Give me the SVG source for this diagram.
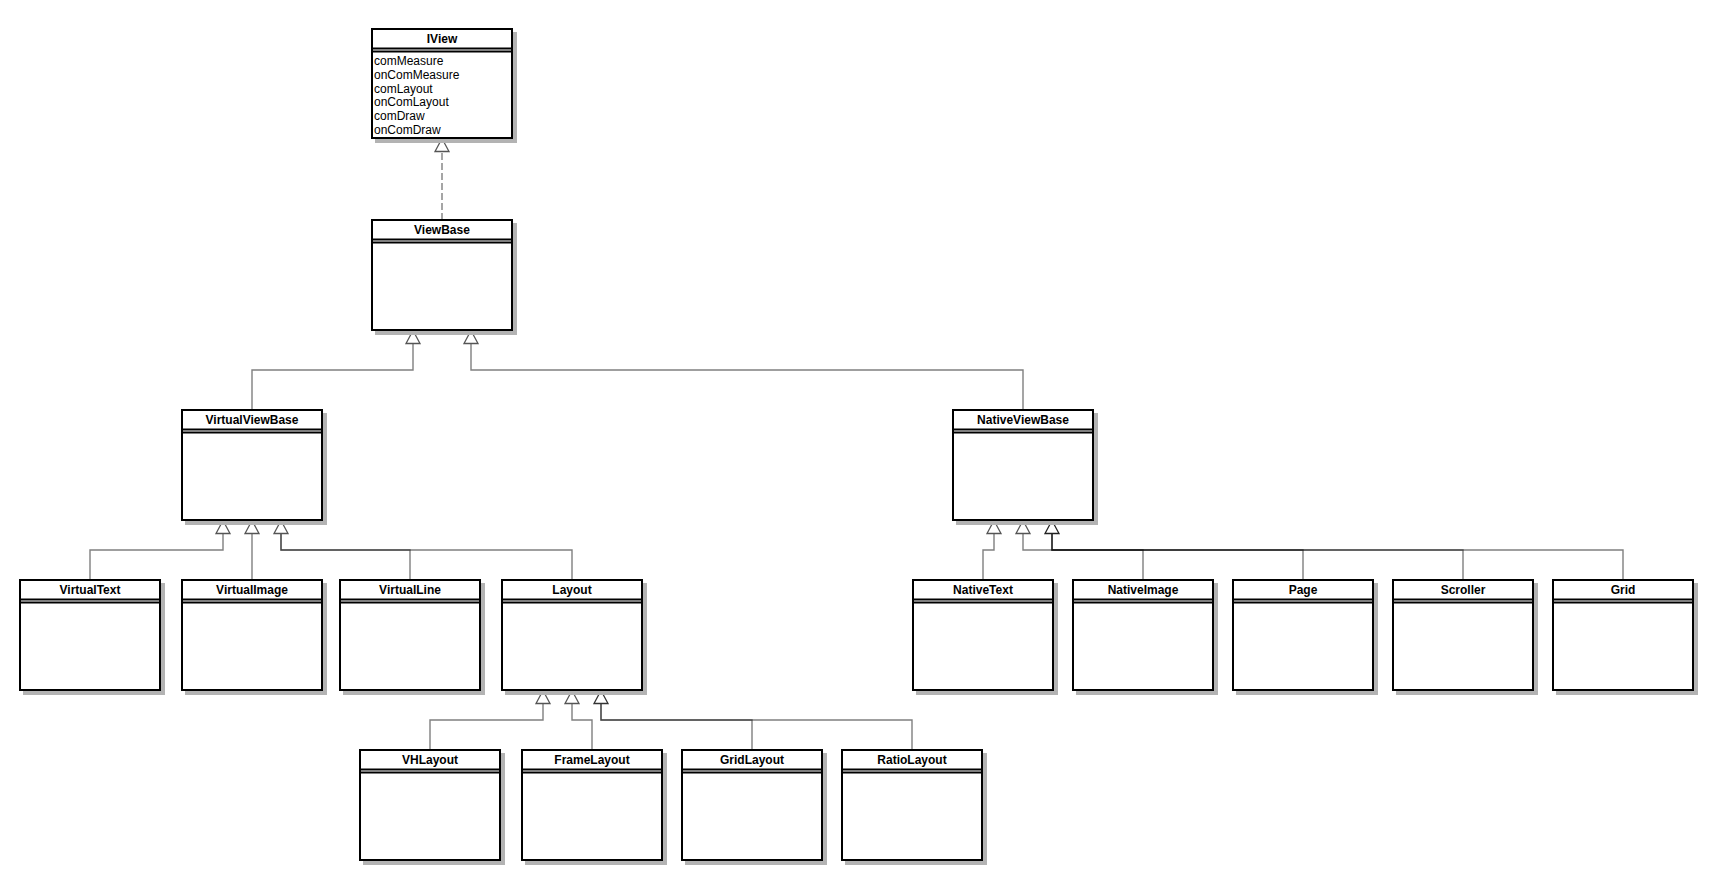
<svg xmlns="http://www.w3.org/2000/svg" width="1715" height="880" viewBox="0 0 1715 880">
<style>
.box{fill:#fff;stroke:#000;stroke-width:2}
.sep{stroke:#000;stroke-width:2;fill:none}
.t{font-family:"Liberation Sans",Arial,sans-serif;font-size:12px;font-weight:bold;text-anchor:middle;fill:#000}
.a{font-family:"Liberation Sans",Arial,sans-serif;font-size:12px;fill:#000}
.e{fill:none;stroke:#000;stroke-opacity:0.5;stroke-width:1.4}
.d{fill:none;stroke:#000;stroke-opacity:0.5;stroke-width:1.4;stroke-dasharray:7 3}
.tri{fill:#fff;stroke:#555;stroke-width:1.3}
</style>
<defs>
<filter id="sh" x="-10%" y="-10%" width="130%" height="130%">
<feFlood flood-color="#b3b3b3"/>
<feComposite in2="SourceAlpha" operator="in"/>
<feOffset dx="4" dy="4" result="s"/>
<feMerge><feMergeNode in="s"/><feMergeNode in="SourceGraphic"/></feMerge>
</filter>
<g id="cls">
<rect class="box" x="0" y="0" width="140" height="110"/>
<path class="sep" d="M0 19.5H140M0 22.5H140"/>
</g>
</defs>
<rect width="1715" height="880" fill="#fff"/>

<g id="connectors">
<path class="d" d="M442 220V151"/>
<path class="e" d="M252 410V370H413V343"/>
<path class="e" d="M1023 410V370H471V343"/>
<path class="e" d="M90 580V550H223V533"/>
<path class="e" d="M252 580V533"/>
<path class="e" d="M410 580V550H281V533"/>
<path class="e" d="M572 580V550H281V533"/>
<path class="e" d="M983 580V550H994V533"/>
<path class="e" d="M1143 580V550H1023V533"/>
<path class="e" d="M1303 580V550H1052V533"/>
<path class="e" d="M1463 580V550H1052V533"/>
<path class="e" d="M1623 580V550H1052V533"/>
<path class="e" d="M430 750V720H543V703"/>
<path class="e" d="M592 750V720H572V703"/>
<path class="e" d="M752 750V720H601V703"/>
<path class="e" d="M912 750V720H601V703"/>
<polygon class="tri" points="442,138.5 435,151.5 449,151.5"/>
<polygon class="tri" points="413,330.5 406,343.5 420,343.5"/>
<polygon class="tri" points="471,330.5 464,343.5 478,343.5"/>
<polygon class="tri" points="223,520.5 216,533.5 230,533.5"/>
<polygon class="tri" points="252,520.5 245,533.5 259,533.5"/>
<polygon class="tri" points="281,520.5 274,533.5 288,533.5"/>
<polygon class="tri" points="994,520.5 987,533.5 1001,533.5"/>
<polygon class="tri" points="1023,520.5 1016,533.5 1030,533.5"/>
<polygon class="tri" points="1052,520.5 1045,533.5 1059,533.5" style="stroke:#222"/>
<polygon class="tri" points="543,690.5 536,703.5 550,703.5"/>
<polygon class="tri" points="572,690.5 565,703.5 579,703.5"/>
<polygon class="tri" points="601,690.5 594,703.5 608,703.5" style="stroke:#333"/>
</g>

<g id="IView">
<g filter="url(#sh)"><rect class="box" x="372" y="29" width="140" height="109"/><path class="sep" d="M372 48.5H512M372 51.5H512"/></g>
<text class="t" x="442" y="42.5">IView</text>
<text class="a" x="374" y="65">comMeasure</text>
<text class="a" x="374" y="78.8">onComMeasure</text>
<text class="a" x="374" y="92.6">comLayout</text>
<text class="a" x="374" y="106.4">onComLayout</text>
<text class="a" x="374" y="120.2">comDraw</text>
<text class="a" x="374" y="134">onComDraw</text>
</g>
<g id="ViewBase"><use href="#cls" x="372" y="220" filter="url(#sh)"/><text class="t" x="442" y="233.5">ViewBase</text></g>
<g id="VirtualViewBase"><use href="#cls" x="182" y="410" filter="url(#sh)"/><text class="t" x="252" y="423.5">VirtualViewBase</text></g>
<g id="NativeViewBase"><use href="#cls" x="953" y="410" filter="url(#sh)"/><text class="t" x="1023" y="423.5">NativeViewBase</text></g>
<g id="VirtualText"><use href="#cls" x="20" y="580" filter="url(#sh)"/><text class="t" x="90" y="593.5">VirtualText</text></g>
<g id="VirtualImage"><use href="#cls" x="182" y="580" filter="url(#sh)"/><text class="t" x="252" y="593.5">VirtualImage</text></g>
<g id="VirtualLine"><use href="#cls" x="340" y="580" filter="url(#sh)"/><text class="t" x="410" y="593.5">VirtualLine</text></g>
<g id="Layout"><use href="#cls" x="502" y="580" filter="url(#sh)"/><text class="t" x="572" y="593.5">Layout</text></g>
<g id="NativeText"><use href="#cls" x="913" y="580" filter="url(#sh)"/><text class="t" x="983" y="593.5">NativeText</text></g>
<g id="NativeImage"><use href="#cls" x="1073" y="580" filter="url(#sh)"/><text class="t" x="1143" y="593.5">NativeImage</text></g>
<g id="Page"><use href="#cls" x="1233" y="580" filter="url(#sh)"/><text class="t" x="1303" y="593.5">Page</text></g>
<g id="Scroller"><use href="#cls" x="1393" y="580" filter="url(#sh)"/><text class="t" x="1463" y="593.5">Scroller</text></g>
<g id="Grid"><use href="#cls" x="1553" y="580" filter="url(#sh)"/><text class="t" x="1623" y="593.5">Grid</text></g>
<g id="VHLayout"><use href="#cls" x="360" y="750" filter="url(#sh)"/><text class="t" x="430" y="763.5">VHLayout</text></g>
<g id="FrameLayout"><use href="#cls" x="522" y="750" filter="url(#sh)"/><text class="t" x="592" y="763.5">FrameLayout</text></g>
<g id="GridLayout"><use href="#cls" x="682" y="750" filter="url(#sh)"/><text class="t" x="752" y="763.5">GridLayout</text></g>
<g id="RatioLayout"><use href="#cls" x="842" y="750" filter="url(#sh)"/><text class="t" x="912" y="763.5">RatioLayout</text></g>
</svg>
